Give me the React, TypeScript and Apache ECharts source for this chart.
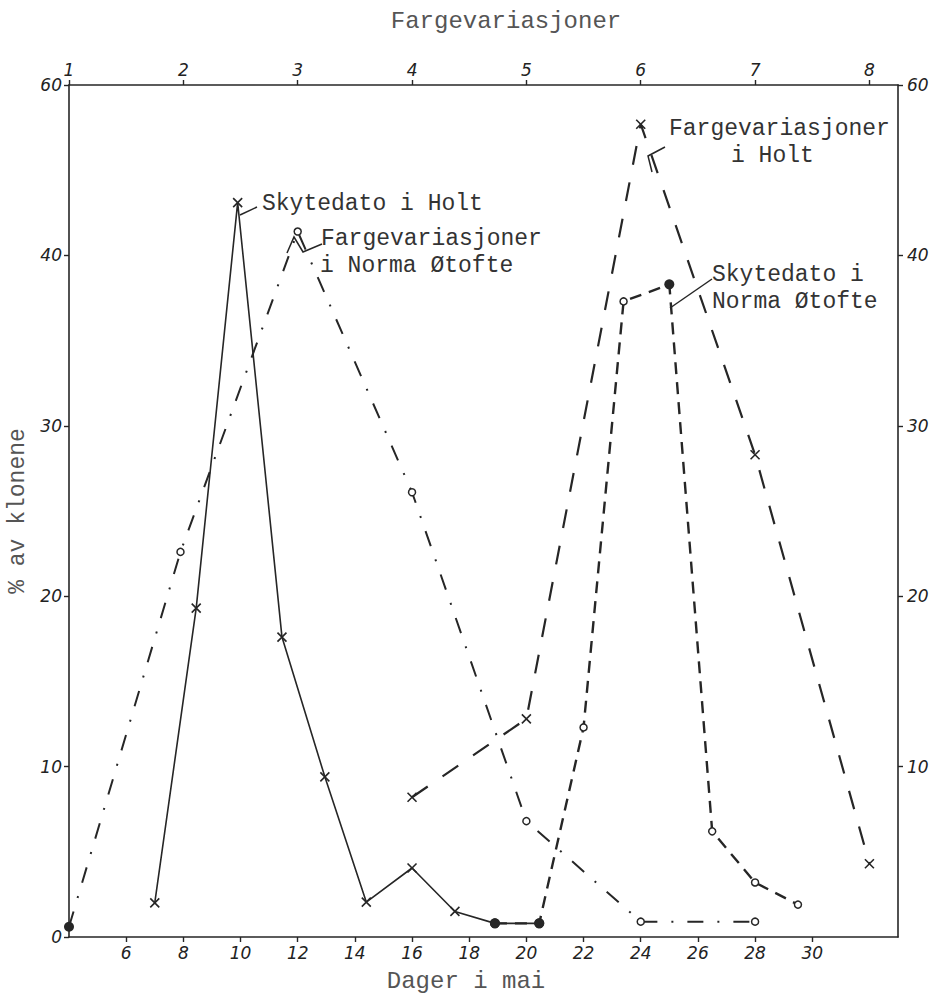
import React, { useEffect, useRef } from 'react';
import * as echarts from 'echarts';

// ---- Data ----
// Skytedato i Holt (solid line)
const holtShotDays = [7, 8.45, 9.9, 11.45, 12.95, 14.4, 16, 17.5, 18.9, 20.45];
const holtShotPct = [2.0, 19.3, 43.1, 17.6, 9.4, 2.05, 4.05, 1.5, 0.8, 0.8];
const holtShotMarks = ['x', 'x', 'x', 'x', 'x', 'x', 'x', 'x', 'dot', 'dot'];

// Fargevariasjoner i Norma Øtofte (dash-dot line)
const normaColorDays = [4, 7.9, 12, 16, 20, 24, 28];
const normaColorPct = [0.6, 22.6, 41.4, 26.1, 6.8, 0.9, 0.9];
const normaColorMarks = ['dot', 'o', 'o', 'o', 'o', 'o', 'o'];

// Fargevariasjoner i Holt (long dashes)
const holtColorDays = [16, 20, 24, 28, 32];
const holtColorPct = [8.2, 12.8, 47.7, 28.3, 4.3];
const holtColorMarks = ['x', 'x', 'x', 'x', 'x'];

// Skytedato i Norma Øtofte (short dashes)
const normaShotDays = [18.9, 20.45, 22, 23.4, 25, 26.5, 28, 29.5];
const normaShotPct = [0.8, 0.8, 12.3, 37.3, 38.3, 6.2, 3.2, 1.9];
const normaShotMarks = ['dot', 'dot', 'o', 'o', 'dot', 'o', 'o', 'o'];

// Axes
const dayTicks = [6, 8, 10, 12, 14, 16, 18, 20, 22, 24, 26, 28, 30];
const variationTicks = [1, 2, 3, 4, 5, 6, 7, 8];
const pctTickValues = [0, 10, 20, 30, 40, 50];
const pctTickLabels = ['0', '10', '20', '30', '40', '60'];
const rightPctTickValues = [10, 20, 30, 40, 50];

const ink = '#262626';
const cross = 'path://M0,0L10,10M10,0L0,10';
const handFont = '"DejaVu Sans", sans-serif';
const typeFont = '"Liberation Mono", "DejaVu Sans Mono", monospace';
const noteSize = 23;

function markerStyle(kind: string) {
  if (kind === 'x') {
    return { symbol: cross, symbolSize: 9, itemStyle: { color: ink, borderColor: ink, borderWidth: 1.6 } };
  }
  if (kind === 'dot') {
    return { symbol: 'circle', symbolSize: 10, itemStyle: { color: ink, borderColor: ink, borderWidth: 0 } };
  }
  return { symbol: 'circle', symbolSize: 7, itemStyle: { color: '#fff', borderColor: ink, borderWidth: 1.5 } };
}

function points(days: number[], pcts: number[], marks: string[]) {
  return days.map((d, i) => ({ value: [d, pcts[i]], ...markerStyle(marks[i]) }));
}

function pctLabel(v: number) {
  const i = pctTickValues.indexOf(v);
  return i >= 0 ? pctTickLabels[i] : '';
}

function note(x: number, y: number, text: string) {
  return {
    type: 'text', x, y,
    style: { text, fontFamily: typeFont, fontSize: noteSize, fill: '#333', textVerticalAlign: 'middle' },
  };
}

function leader(pts: number[][]) {
  return { type: 'polyline', shape: { points: pts }, style: { stroke: ink, lineWidth: 1.5, fill: 'none' } };
}

export default function App() {
  const ref = useRef<HTMLDivElement>(null);
  useEffect(() => {
    const chart = echarts.init(ref.current!, undefined, { renderer: 'svg' });
    const axisLine = { show: true, onZero: false, lineStyle: { color: ink, width: 1.6 } };
    const tickStyle = { lineStyle: { color: ink, width: 1.4 }, length: 5 };
    const numLabel = { fontFamily: handFont, fontStyle: 'italic', fontSize: 17, color: '#222' };
    const option: any = {
      animation: false,
      backgroundColor: '#fff',
      grid: { left: 69, right: 34, top: 85, bottom: 59, containLabel: false, outerBoundsMode: 'none' },
      xAxis: [
        {
          type: 'value', position: 'bottom', min: 4, max: 33,
          axisLine, splitLine: { show: false },
          axisTick: { show: true, ...tickStyle, customValues: dayTicks },
          axisLabel: { ...numLabel, margin: 7, customValues: dayTicks },
        },
        {
          type: 'value', position: 'top', min: 1, max: 8.25,
          axisLine, splitLine: { show: false },
          axisTick: { show: true, ...tickStyle, customValues: variationTicks },
          axisLabel: { ...numLabel, margin: 7, customValues: variationTicks },
        },
      ],
      yAxis: [
        {
          type: 'value', position: 'left', min: 0, max: 50,
          name: '% av klonene', nameLocation: 'middle', nameGap: 34, nameRotate: 90,
          nameTextStyle: { fontFamily: typeFont, fontSize: 23, color: '#555' },
          axisLine, splitLine: { show: false },
          axisTick: { show: true, ...tickStyle, customValues: pctTickValues },
          axisLabel: { ...numLabel, margin: 7, customValues: pctTickValues, formatter: (v: number) => pctLabel(v) },
        },
        {
          type: 'value', position: 'right', min: 0, max: 50,
          axisLine, splitLine: { show: false },
          axisTick: { show: true, ...tickStyle, customValues: rightPctTickValues },
          axisLabel: { ...numLabel, margin: 9, customValues: rightPctTickValues, formatter: (v: number) => pctLabel(v) },
        },
      ],
      series: [
        {
          name: 'Skytedato i Holt', type: 'line', xAxisIndex: 0, yAxisIndex: 0,
          data: points(holtShotDays, holtShotPct, holtShotMarks),
          lineStyle: { color: ink, width: 1.6, type: 'solid' },
        },
        {
          name: 'Fargevariasjoner i Norma Øtofte', type: 'line', xAxisIndex: 0, yAxisIndex: 0,
          data: points(normaColorDays, normaColorPct, normaColorMarks),
          lineStyle: { color: ink, width: 2, type: [16, 14, 2, 14] },
        },
        {
          name: 'Fargevariasjoner i Holt', type: 'line', xAxisIndex: 0, yAxisIndex: 0,
          data: points(holtColorDays, holtColorPct, holtColorMarks),
          lineStyle: { color: ink, width: 2.2, type: [19, 18] },
        },
        {
          name: 'Skytedato i Norma Øtofte', type: 'line', xAxisIndex: 0, yAxisIndex: 0,
          data: points(normaShotDays, normaShotPct, normaShotMarks),
          lineStyle: { color: ink, width: 2.4, type: [12, 8] },
        },
      ],
      graphic: [
        { type: 'text', x: 506, y: 21, style: { text: 'Fargevariasjoner', fontFamily: typeFont, fontSize: 24, fill: '#555', textAlign: 'center', textVerticalAlign: 'middle' } },
        { type: 'text', x: 466, y: 981, style: { text: 'Dager i mai', fontFamily: typeFont, fontSize: 24, fill: '#555', textAlign: 'center', textVerticalAlign: 'middle' } },
        // annotations
        note(262, 204, 'Skytedato i Holt'),
        leader([[240, 215], [257, 207]]),
        note(321, 239, 'Fargevariasjoner'),
        note(320, 266, 'i Norma Øtofte'),
        leader([[287, 253], [294, 237], [303, 252], [322, 244]]),
        note(669, 129, 'Fargevariasjoner'),
        note(731, 156, 'i Holt'),
        leader([[652, 172], [648, 156], [665, 147]]),
        note(712, 275, 'Skytedato i'),
        note(712, 302, 'Norma Øtofte'),
        leader([[670, 308], [712, 279]]),
      ],
    };
    chart.setOption(option);
    return () => chart.dispose();
  }, []);
  return (
    <div
      ref={ref}
      style={{ position: 'fixed', left: 0, top: 0, width: 932, height: 996, background: '#fff' }}
    />
  );
}
